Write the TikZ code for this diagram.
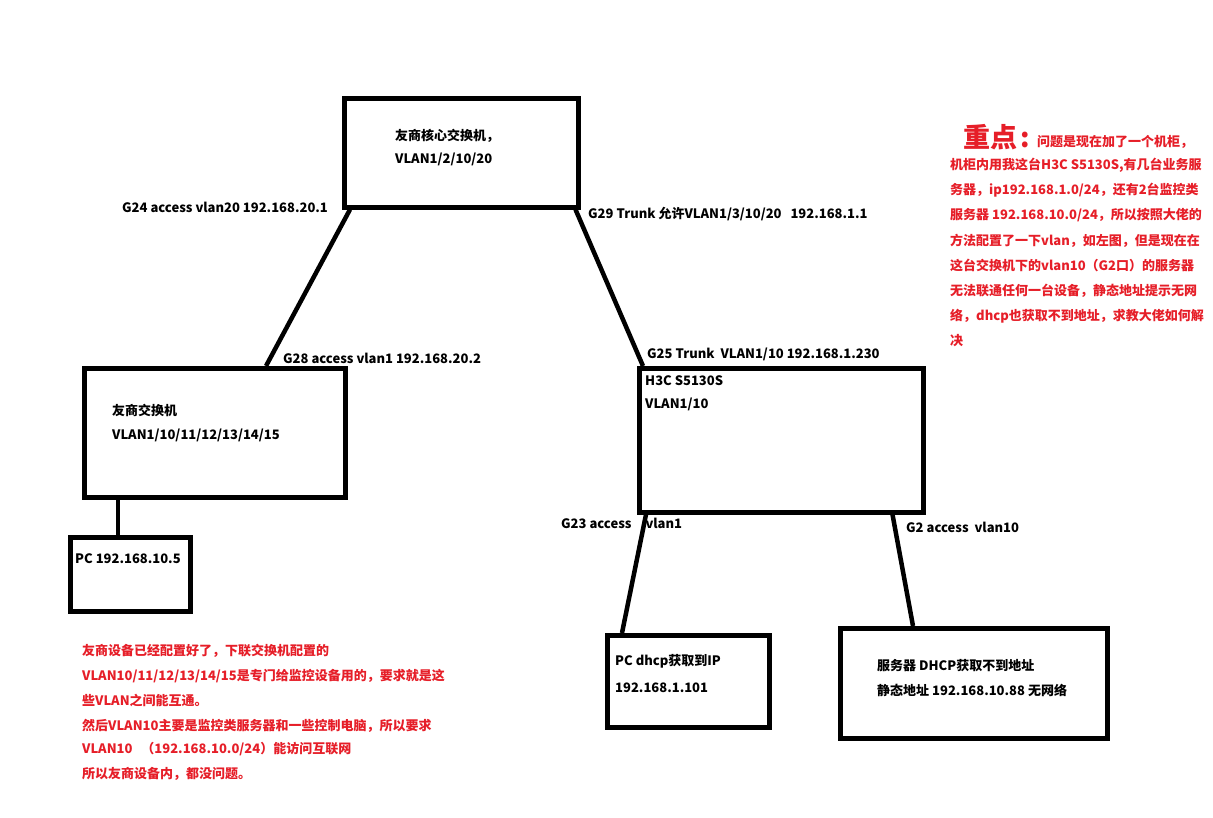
\documentclass[tikz,border=0pt]{standalone}
\usepackage{fontspec}
\setmainfont{Noto Sans CJK SC}
\definecolor{redtxt}{RGB}{230,30,40}
\begin{document}
\begin{tikzpicture}[x=1pt,y=-1pt,
  box/.style={draw, line width=4.5pt, inner sep=0pt, anchor=north west},
  link/.style={line width=4.5pt},
  lbl/.style={anchor=base west, inner sep=0pt, font=\fontsize{13}{15}\selectfont\bfseries},
  rlbl/.style={lbl, text=redtxt}]
\useasboundingbox[fill=white] (0,0) rectangle (1213,817);
% boxes
\node[box, minimum width=234pt, minimum height=109pt] (core) at (342,96) {};
\node[box, minimum width=261pt, minimum height=129pt] (sw) at (82,366) {};
\node[box, minimum width=120pt, minimum height=74pt] (pc) at (68,535) {};
\node[box, minimum width=284pt, minimum height=144pt] (h3c) at (637,366) {};
\node[box, minimum width=162pt, minimum height=92pt] (pcd) at (605,633) {};
\node[box, minimum width=267pt, minimum height=110pt] (srv) at (838,626) {};
% links
\draw[link] ([xshift=8pt]core.south west) -- ([xshift=184pt]sw.north west);
\draw[link] ([xshift=-5pt]core.south east) -- ([xshift=6pt]h3c.north west);
\draw[link] ([xshift=36pt]sw.south west) -- ([xshift=50pt]pc.north west);
\draw[link] ([xshift=9pt]h3c.south west) -- ([xshift=17pt]pcd.north west);
\draw[link] ([xshift=-33pt]h3c.south east) -- ([xshift=75pt]srv.north west);
% labels
\node[lbl] (core1) at (395,140) {友商核心交换机，};
\node[lbl] (core2) at (395,163) {VLAN1/2/10/20};
\node[lbl] (g24) at (122,212) {G24 access vlan20 192.168.20.1};
\node[lbl] (g29) at (588,218) {G29 Trunk 允许VLAN1/3/10/20\ \ \ 192.168.1.1};
\node[lbl] (g28) at (283,363) {G28 access vlan1 192.168.20.2};
\node[lbl] (g25) at (647,358) {G25 Trunk\ \ VLAN1/10 192.168.1.230};
\node[lbl] (h3c1) at (645,385) {H3C S5130S};
\node[lbl] (h3c2) at (645,408) {VLAN1/10};
\node[lbl] (sw1) at (112,415) {友商交换机};
\node[lbl] (sw2) at (112,439) {VLAN1/10/11/12/13/14/15};
\node[lbl] (pct) at (75,563) {PC 192.168.10.5};
\node[lbl] (g23) at (561,528) {G23 access\hspace{14pt}vlan1};
\node[lbl] (g2) at (906,532) {G2 access\ \ vlan10};
\node[lbl] (pcd1) at (615,665) {PC dhcp获取到IP};
\node[lbl] (pcd2) at (615,692) {192.168.1.101};
\node[lbl] (srv1) at (877,670) {服务器 DHCP获取不到地址};
\node[lbl] (srv2) at (877,695) {静态地址 192.168.10.88 无网络};
% red notes right
\node[rlbl, font=\fontsize{27}{30}\selectfont\bfseries] (key) at (963,147) {重点};
\node[rlbl, font=\fontsize{27}{30}\selectfont\bfseries] (keyc) at (1020,147) {:};
\node[rlbl] (r1) at (1037,146) {问题是现在加了一个机柜，};
\node[rlbl] (r2) at (950,169) {机柜内用我这台H3C S5130S,有几台业务服};
\node[rlbl] (r3) at (950,194) {务器，ip192.168.1.0/24，还有2台监控类};
\node[rlbl] (r4) at (950,219) {服务器 192.168.10.0/24，所以按照大佬的};
\node[rlbl] (r5) at (950,245) {方法配置了一下vlan，如左图，但是现在在};
\node[rlbl] (r6) at (950,270) {这台交换机下的vlan10（G2口）的服务器};
\node[rlbl] (r7) at (950,295) {无法联通任何一台设备，静态地址提示无网};
\node[rlbl] (r8) at (950,320) {络，dhcp也获取不到地址，求教大佬如何解};
\node[rlbl] (r9) at (950,345) {决};
% red notes left
\node[rlbl] (n1) at (82,655) {友商设备已经配置好了，下联交换机配置的};
\node[rlbl] (n2) at (82,680) {VLAN10/11/12/13/14/15是专门给监控设备用的，要求就是这};
\node[rlbl] (n3) at (82,705) {些VLAN之间能互通。};
\node[rlbl] (n4) at (82,730) {然后VLAN10主要是监控类服务器和一些控制电脑，所以要求};
\node[rlbl] (n5) at (82,753) {VLAN10\ \ \ （192.168.10.0/24）能访问互联网};
\node[rlbl] (n6) at (82,778) {所以友商设备内，都没问题。};
\end{tikzpicture}
\end{document}
